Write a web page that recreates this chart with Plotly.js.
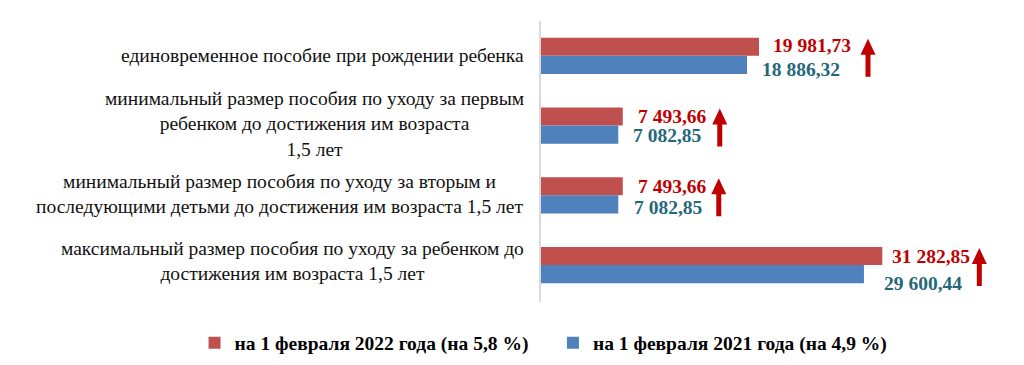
<!DOCTYPE html>
<html>
<head>
<meta charset="utf-8">
<script src="https://cdn.plot.ly/plotly-3.0.1.min.js"></script>
<style>html,body{margin:0;padding:0;background:#fff;}#chart{width:1024px;height:365px;}</style>
</head>
<body>
<div id="chart"></div>
<script>
const categories = [
  "единовременное пособие при рождении ребенка",
  "минимальный размер пособия по уходу за первым<br>ребенком до достижения им возраста<br>1,5 лет",
  "минимальный размер пособия по уходу за вторым и<br>последующими детьми до достижения им возраста 1,5 лет",
  "максимальный размер пособия по уходу за ребенком до<br>достижения им возраста 1,5 лет"
];
const values2022 = [19981.73, 7493.66, 7493.66, 31282.85];
const values2021 = [18886.32, 7082.85, 7082.85, 29600.44];
const seriesNames = ["на 1 февраля 2022 года (на 5,8 %)", "на 1 февраля 2021 года (на 4,9 %)"];

// styling / placement constants (pixels)
const RED = "#c0504d", BLUE = "#4f81bd", RED_TXT = "#c00000", BLUE_TXT = "#25687a";
const redGap = [12, 13, 13, 8], redShiftY = [10, 9, 9, 9];
const blueGap = [13, 13, 14, 18], blueShiftY = [-14, -10, -12, -18];
const arrowOffset = [109, 97, 96, 97];
const labelShiftY = [0, 2, 1, 4];

function fmt(v) {
  const parts = v.toFixed(2).split(".");
  const intPart = parts[0].replace(/\B(?=(\d{3})+(?!\d))/g, " ");
  return intPart + "," + parts[1];
}

const serif = "Liberation Serif, Times New Roman, serif";

const traces = [
  {type: "bar", orientation: "h", name: seriesNames[0], y: categories, x: values2022,
   marker: {color: RED}, hoverinfo: "x", legend: "legend"},
  {type: "bar", orientation: "h", name: seriesNames[1], y: categories, x: values2021,
   marker: {color: BLUE}, hoverinfo: "x", legend: "legend2"}
];

const annotations = [];
const shapes = [];
categories.forEach((c, i) => {
  annotations.push({xref: "paper", yref: "y", x: 0, y: i, xanchor: "right", yanchor: "middle",
    xshift: -15, yshift: labelShiftY[i], align: "center", showarrow: false, text: c,
    font: {family: serif, size: 19.5, color: "#111"}});
  annotations.push({xref: "x", yref: "y", x: values2022[i], y: i, xanchor: "left", yanchor: "middle",
    xshift: redGap[i], yshift: redShiftY[i], showarrow: false, text: "<b>" + fmt(values2022[i]) + "</b>",
    font: {family: serif, size: 19.5, color: RED_TXT}});
  annotations.push({xref: "x", yref: "y", x: values2021[i], y: i, xanchor: "left", yanchor: "middle",
    xshift: blueGap[i], yshift: blueShiftY[i], showarrow: false, text: "<b>" + fmt(values2021[i]) + "</b>",
    font: {family: serif, size: 19.5, color: BLUE_TXT}});
  const o = arrowOffset[i];
  shapes.push({type: "path", xref: "x", yref: "y", xsizemode: "pixel", ysizemode: "pixel",
    xanchor: values2022[i], yanchor: i,
    path: `M${o-2.5},-21 L${o+2.5},-21 L${o+2.5},1 L${o+7.5},1 L${o},17 L${o-7.5},1 L${o-2.5},1 Z`,
    fillcolor: RED_TXT, line: {width: 0}});
});

const legendFont = {family: serif, size: 19.5, color: "#000", weight: "bold"};
const layout = {
  width: 1024, height: 365,
  margin: {l: 541, r: 24, t: 21, b: 63, pad: 0},
  paper_bgcolor: "#fff", plot_bgcolor: "#fff",
  barmode: "group", bargap: 0.48, bargroupgap: 0,
  showlegend: true,
  legend: {orientation: "h", xref: "container", yref: "container", x: 0.19, xanchor: "left",
    y: 0.06, yanchor: "middle", font: legendFont, itemclick: false, bgcolor: "rgba(0,0,0,0)"},
  legend2: {orientation: "h", xref: "container", yref: "container", x: 0.54, xanchor: "left",
    y: 0.06, yanchor: "middle", font: legendFont, itemclick: false, bgcolor: "rgba(0,0,0,0)"},
  xaxis: {range: [0, 42070], showgrid: false, zeroline: false, showticklabels: false, showline: false, ticks: ""},
  yaxis: {type: "category", range: [3.53, -0.5], showgrid: false, zeroline: false, showticklabels: false,
    showline: true, linecolor: "#d9d9d9", linewidth: 2, ticks: ""},
  annotations: annotations,
  shapes: shapes
};

Plotly.newPlot("chart", traces, layout, {displayModeBar: false, staticPlot: true});
</script>
</body>
</html>
